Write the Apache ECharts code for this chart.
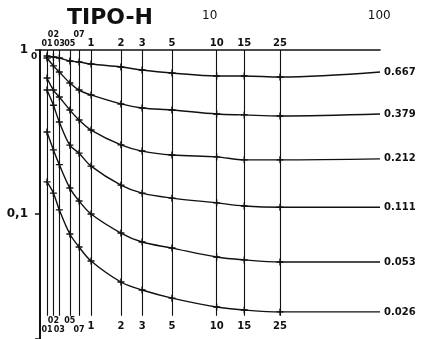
<!DOCTYPE html>
<html>
<head>
<meta charset="utf-8">
<script src="https://cdn.jsdelivr.net/npm/echarts@6/dist/echarts.min.js"></script>
<style>
  html, body { margin: 0; padding: 0; background: #fff; }
  #main { width: 430px; height: 339px; }
</style>
</head>
<body>
<div id="main"></div>
<script>
// x where every curve is read (last one = end of the curves)
const xValues = [0.1, 0.2, 0.3, 0.5, 0.7, 1, 2, 3, 5, 10, 15, 25, 100];
// vertical guide lines and their hand labels
const guideX = [0.1, 0.2, 0.3, 0.5, 0.7, 1, 2, 3, 5, 10, 15, 25];
const guideLabels = ['01', '02', '03', '05', '07', '1', '2', '3', '5', '10', '15', '25'];

const curveNames = ['0.667', '0.379', '0.212', '0.111', '0.053', '0.026'];
const c0667 = [0.919, 0.906, 0.894, 0.857, 0.845, 0.821, 0.788, 0.755, 0.724, 0.694, 0.694, 0.684, 0.734];
const c0379 = [0.894, 0.800, 0.734, 0.629, 0.570, 0.532, 0.469, 0.443, 0.431, 0.407, 0.402, 0.396, 0.407];
const c0212 = [0.675, 0.570, 0.517, 0.431, 0.374, 0.325, 0.264, 0.242, 0.229, 0.223, 0.214, 0.214, 0.217];
const c0111 = [0.570, 0.460, 0.364, 0.263, 0.235, 0.196, 0.150, 0.134, 0.125, 0.117, 0.112, 0.110, 0.110];
const c0053 = [0.316, 0.246, 0.200, 0.144, 0.120, 0.100, 0.0766, 0.0675, 0.0620, 0.0547, 0.0525, 0.0510, 0.0510];
const c0026 = [0.157, 0.134, 0.106, 0.0755, 0.0629, 0.0517, 0.0385, 0.0344, 0.0307, 0.0271, 0.0260, 0.0253, 0.0253];
const curves = [c0667, c0379, c0212, c0111, c0053, c0026];

const FONT = '"DejaVu Sans", sans-serif';
const plus = 'path://M4,0h2v4h4v2h-4v4h-2v-4h-4v-2h4z';

// the scale is log(1 + x), so the shifted value goes on the log axis
const sx = (x) => 1 + x;

let myChart = echarts.init(document.getElementById('main'), null, { renderer: 'canvas' });

const curveSeries = curves.map((vals, i) => ({
  name: curveNames[i],
  type: 'line',
  smooth: 0.35,
  symbol: plus,
  symbolSize: 7,
  lineStyle: { color: '#111', width: 1.4 },
  itemStyle: { color: '#111' },
  endLabel: {
    show: true,
    formatter: '{a}',
    color: '#111',
    fontFamily: FONT,
    fontWeight: 'bold',
    fontSize: 10,
    distance: 4
  },
  data: vals.map((v, j) => {
    const item = { value: [sx(xValues[j]), v] };
    if (j === vals.length - 1) item.symbol = 'none';
    return item;
  }),
  z: 3
}));

// small labels near the origin are stacked on two rows
const liftTop = [0.2, 0.7];
const liftBottom = [0.2, 0.5];

const guideTop = guideX.map((x, i) => [
  {
    coord: [sx(x), 1],
    label: {
      formatter: guideLabels[i],
      fontSize: x < 1 ? 8 : 10,
      distance: liftTop.includes(x) ? 11 : 2
    }
  },
  { coord: [sx(x), 0.024] }
]);

const guideBottom = guideX.map((x, i) => [
  { coord: [sx(x), 1] },
  {
    coord: [sx(x), 0.024],
    label: {
      formatter: guideLabels[i],
      fontSize: x < 1 ? 8 : 10,
      distance: x < 1 ? (liftBottom.includes(x) ? 1 : 10) : 6
    }
  }
]);

myChart.setOption({
  animation: false,
  backgroundColor: '#fff',
  title: {
    text: 'TIPO-H',
    left: 62,
    top: 2,
    textStyle: { fontFamily: FONT, fontWeight: 900, fontSize: 22, color: '#111' }
  },
  graphic: [
    { type: 'text', left: 31, top: 52, style: { text: '0', font: 'bold 9px "DejaVu Sans"', fill: '#111' } }
  ],
  grid: { left: 40, right: 50, top: 50, bottom: 0 },
  xAxis: {
    type: 'log',
    position: 'top',
    min: 1,
    max: 101,
    axisLine: { show: true, lineStyle: { color: '#111', width: 1.6 } },
    axisTick: { show: false },
    splitLine: { show: false },
    axisLabel: {
      margin: 28,
      color: '#111',
      fontFamily: FONT,
      fontSize: 12,
      formatter: (v) => (Math.abs(v - 10) < 1e-6 ? '10' : Math.abs(v - 100) < 1e-6 ? '100' : '')
    }
  },
  yAxis: {
    type: 'log',
    min: 0.0173,
    max: 1,
    axisLine: { show: true, lineStyle: { color: '#111', width: 2 } },
    axisTick: { show: true, length: 5, lineStyle: { color: '#111', width: 1.5 } },
    splitLine: { show: false },
    axisLabel: {
      margin: 12,
      color: '#111',
      fontFamily: FONT,
      fontWeight: 'bold',
      fontSize: 12,
      formatter: (v) => (Math.abs(v - 1) < 1e-6 ? '1' : Math.abs(v - 0.1) < 1e-6 ? '0,1' : '')
    }
  },
  series: [
    {
      name: 'guides',
      type: 'line',
      data: [],
      markLine: {
        silent: true,
        symbol: ['none', 'none'],
        lineStyle: { color: '#111', width: 1.1, type: 'solid' },
        label: { show: true, position: 'start', color: '#111', fontFamily: FONT, fontWeight: 'bold' },
        data: guideTop
      }
    },
    {
      name: 'guideLabels',
      type: 'line',
      data: [],
      markLine: {
        silent: true,
        symbol: ['none', 'none'],
        lineStyle: { color: 'rgba(0,0,0,0)', width: 0 },
        label: { show: true, position: 'end', color: '#111', fontFamily: FONT, fontWeight: 'bold' },
        data: guideBottom
      }
    },
    ...curveSeries
  ]
});

window.addEventListener('resize', () => {
  myChart.resize();
});
</script>
</body>
</html>
